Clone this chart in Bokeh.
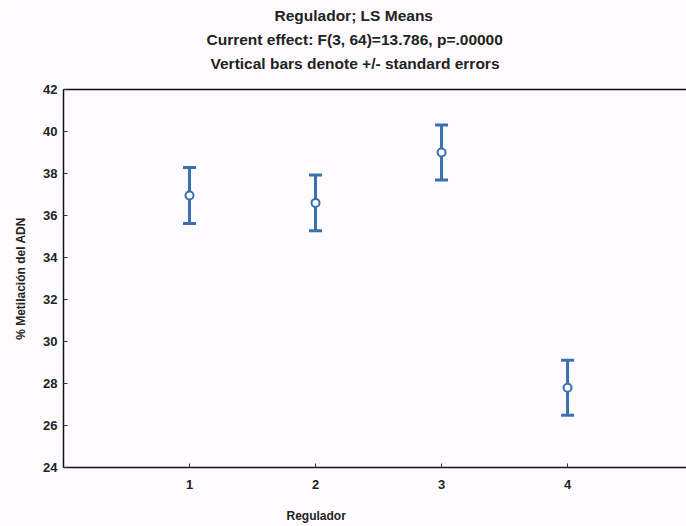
from bokeh.plotting import figure
from bokeh.models import (ColumnDataSource, Whisker, TeeHead, LinearAxis, Title,
                          FixedTicker, Range1d)
from bokeh.embed import file_html
from bokeh.resources import INLINE

# LS means of DNA methylation by regulator, with standard errors
regulador = [1, 2, 3, 4]
media = [36.95, 36.6, 39.0, 27.8]
error_std = [1.33, 1.33, 1.31, 1.31]
y_ticks = [24, 26, 28, 30, 32, 34, 36, 38, 40, 42]
titulos = ["Regulador; LS Means",
           "Current effect: F(3, 64)=13.786, p=.00000",
           "Vertical bars denote +/- standard errors"]

FONT = "Liberation Sans"
BLUE = "#3a70b0"
BG = "#fdfbfe"
INK = "#222222"

src = ColumnDataSource(dict(
    x=regulador,
    y=media,
    upper=[m + e for m, e in zip(media, error_std)],
    lower=[m - e for m, e in zip(media, error_std)],
))

p = figure(width=686, height=526, output_backend="svg", toolbar_location=None,
           x_range=Range1d(0, 4.944), y_range=Range1d(24, 42),
           min_border_left=0, min_border_right=0, min_border_bottom=0,
           min_border_top=0)
p.background_fill_color = BG
p.border_fill_color = BG
p.outline_line_color = None
p.grid.visible = False

def style_axis(ax):
    ax.axis_line_color = "#111111"
    ax.axis_line_width = 1.5
    ax.major_tick_in = 4
    ax.major_tick_out = 0
    ax.minor_tick_line_color = None
    ax.major_tick_line_color = "#333333"
    ax.major_label_text_font = FONT
    ax.major_label_text_font_style = "bold"
    ax.major_label_text_font_size = "13px"
    ax.major_label_text_color = INK

style_axis(p.xaxis[0])
style_axis(p.yaxis[0])
p.xaxis[0].ticker = FixedTicker(ticks=regulador)
p.yaxis[0].ticker = FixedTicker(ticks=y_ticks)
p.xaxis[0].major_label_standoff = 12
p.yaxis[0].major_label_standoff = 6

def spacer_axis(gap, line_color=None):
    # axis with one invisible, unlabelled tick: draws a frame edge (or nothing)
    # and reserves `gap` pixels next to the frame
    return LinearAxis(ticker=FixedTicker(ticks=[2.5]),
                      major_label_overrides={2.5: ""},
                      major_label_standoff=0, major_label_text_font_size="1px",
                      major_tick_out=gap, major_tick_in=0,
                      major_tick_line_color=None, minor_tick_line_color=None,
                      axis_line_color=line_color, axis_line_width=1.5)

# top frame line, with room between it and the heading
p.add_layout(spacer_axis(14, "#111111"), "above")
# room between tick labels and the x-axis title
p.add_layout(spacer_axis(11), "below")

def heading(text, size, offset, standoff, align="left"):
    return Title(text=text, align=align, offset=offset, standoff=standoff,
                 text_font=FONT, text_font_style="bold", text_font_size=size,
                 text_color=INK)

# three-line heading, stacked outward from the frame
p.add_layout(heading(titulos[2], "15.5px", 147, 7), "above")
p.add_layout(heading(titulos[1], "15.5px", 143, 3), "above")
p.add_layout(heading(titulos[0], "15.5px", 211, 8), "above")

# axis titles
p.add_layout(heading("Regulador", "12px", 223, 8), "below")
p.add_layout(Title(text="% Metilación del ADN", align="center", standoff=24,
                   vertical_align="middle", text_font=FONT, text_font_style="bold",
                   text_font_size="12px", text_color=INK), "left")

w = Whisker(source=src, base="x", upper="upper", lower="lower",
            line_color=BLUE, line_width=3,
            upper_head=TeeHead(size=13, line_color=BLUE, line_width=3),
            lower_head=TeeHead(size=13, line_color=BLUE, line_width=3))
p.add_layout(w)

p.scatter("x", "y", source=src, size=8, marker="circle", fill_color="white",
          line_color=BLUE, line_width=2)

open("out.html", "w").write(file_html(p, INLINE))
